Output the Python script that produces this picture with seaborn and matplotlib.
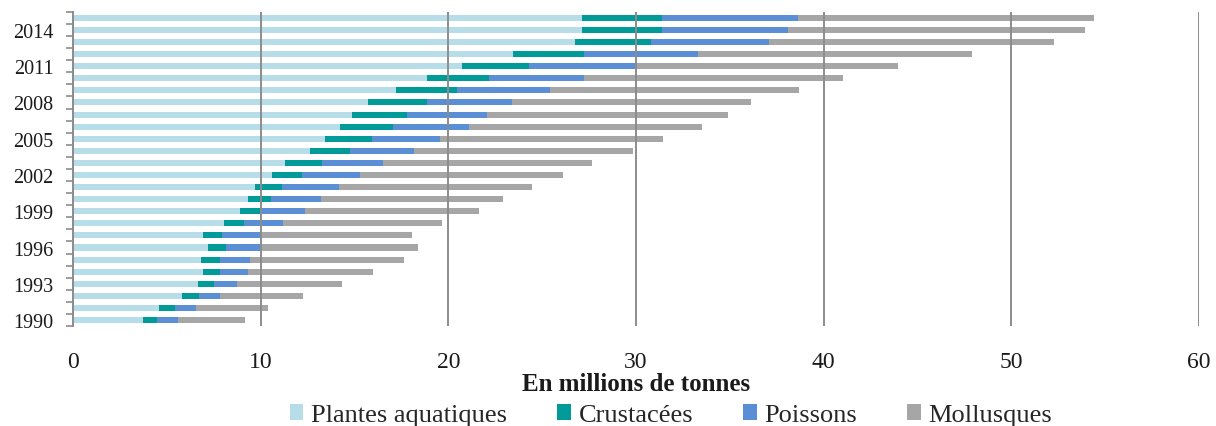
import numpy as np
import pandas as pd
import matplotlib
matplotlib.use("Agg")
import matplotlib.pyplot as plt
import seaborn as sns
from matplotlib.patches import Patch

years = list(range(1990, 2016))
plantes = [3.75, 4.56, 5.80, 6.64, 6.92, 6.82, 7.21, 6.92, 8.04, 8.88, 9.31, 9.71, 10.61,
           11.32, 12.61, 13.44, 14.22, 14.87, 15.74, 17.23, 18.88, 20.73, 23.44, 26.74, 27.15, 27.15]
crustaces = [0.73, 0.86, 0.92, 0.90, 0.92, 1.02, 0.96, 1.02, 1.08, 1.12, 1.24, 1.43, 1.59,
             1.94, 2.14, 2.49, 2.83, 2.95, 3.14, 3.26, 3.28, 3.59, 3.79, 4.08, 4.25, 4.25]
poissons = [1.12, 1.16, 1.12, 1.18, 1.47, 1.59, 1.79, 2.02, 2.06, 2.38, 2.67, 3.01, 3.10,
            3.26, 3.42, 3.62, 4.03, 4.26, 4.50, 4.91, 5.07, 5.61, 6.09, 6.28, 6.71, 7.24]
mollusques = [3.59, 3.79, 4.42, 5.62, 6.68, 8.23, 8.45, 8.11, 8.47, 9.23, 9.67, 10.29, 10.79,
              11.12, 11.69, 11.89, 12.43, 12.80, 12.76, 13.28, 13.81, 14.05, 14.57, 15.17, 15.81, 15.76]

series = ["Plantes aquatiques", "Crustacées", "Poissons", "Mollusques"]
colors = ["#B7DDE8", "#009A98", "#5A8FD6", "#A6A6A6"]

df = pd.DataFrame({"annee": [str(y) for y in years],
                   "Plantes aquatiques": plantes, "Crustacées": crustaces,
                   "Poissons": poissons, "Mollusques": mollusques})
cum = df[series].cumsum(axis=1)
cum["annee"] = df["annee"]
order = [str(y) for y in years[::-1]]

sns.set_theme(style="white")
plt.rcParams['font.family'] = ['Liberation Serif', 'DejaVu Serif']

fig = plt.figure(figsize=(12.16, 4.27), dpi=100)
ax = fig.add_axes([0.060, 0.234, 0.926, 0.736])

for s, c in reversed(list(zip(series, colors))):
    sns.barplot(data=cum, x=s, y="annee", order=order, orient="h", color=c,
                width=0.5, ax=ax, saturation=1, linewidth=0, zorder=1)

ax.set_xlim(0, 60)
ax.set_xticks(range(0, 61, 10))
ax.set_axisbelow(False)
ax.xaxis.grid(True, color="#8C8C8C", linewidth=1.4, zorder=2)
ax.yaxis.grid(False)
for sp in ["top", "right", "bottom"]:
    ax.spines[sp].set_visible(False)
ax.spines["left"].set_color("#8C8C8C")
ax.spines["left"].set_linewidth(1.4)

labels = [a if (int(a) - 1990) % 3 == 0 else "" for a in order]
ax.set_yticks(range(len(order)))
ax.set_yticklabels(labels, fontsize=14.5, color="#1a1a1a")
ax.set_yticks(np.arange(-0.5, len(order), 1.0), minor=True)
ax.tick_params(axis="y", which="major", length=0, pad=14)
ax.tick_params(axis="y", which="minor", length=5, width=1.2, color="#8C8C8C", left=True)
ax.tick_params(axis="x", length=0, labelsize=17, labelcolor="#1a1a1a", pad=18)
ax.set_ylim(len(order) - 0.5, -0.5)
ax.set_ylabel("")
ax.set_xlabel("En millions de tonnes", fontsize=18, fontweight="bold", labelpad=0, color="#1a1a1a")

handles = [Patch(facecolor=c, edgecolor="none", label=s) for s, c in zip(series, colors)]
fig.legend(handles=handles, loc="center", bbox_to_anchor=(0.552, 0.026), ncol=4,
           frameon=False, fontsize=19, handlelength=0.5, handleheight=0.55,
           handletextpad=0.3, columnspacing=1.9, borderpad=0)

fig.savefig("out.png", dpi=100)
